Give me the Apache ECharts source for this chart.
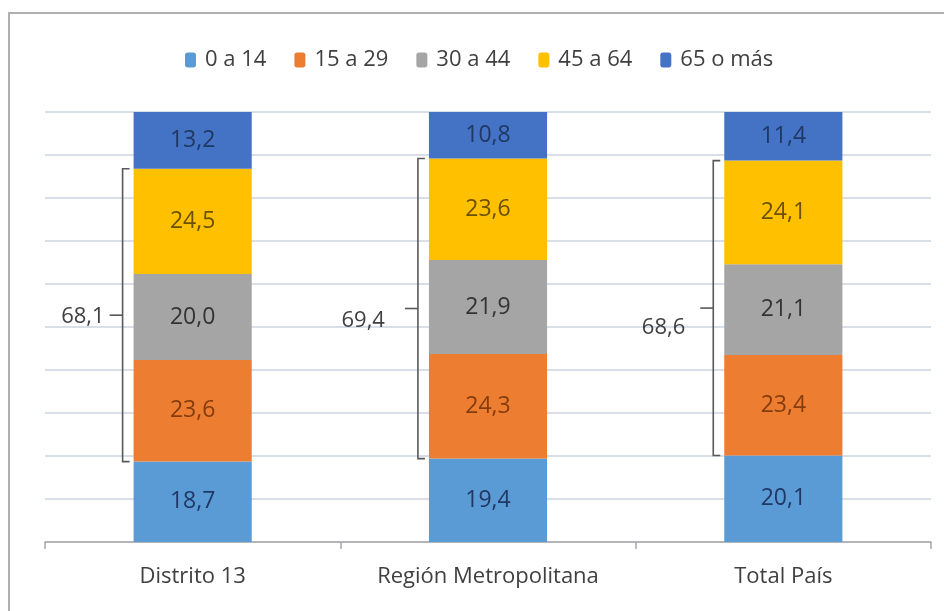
<!DOCTYPE html>
<html><head><meta charset="utf-8">
<script src="https://cdn.jsdelivr.net/npm/echarts@6/dist/echarts.min.js"></script>
<style>html,body{margin:0;padding:0;background:#fff}#c{width:944px;height:611px}</style>
</head><body><div id="c"></div>
<script>
const categories = ['Distrito 13', 'Región Metropolitana', 'Total País'];
const seriesNames = ['0 a 14', '15 a 29', '30 a 44', '45 a 64', '65 o más'];
const v0a14 = [18.7, 19.4, 20.1];
const v15a29 = [23.6, 24.3, 23.4];
const v30a44 = [20.0, 21.9, 21.1];
const v45a64 = [24.5, 23.6, 24.1];
const v65 = [13.2, 10.8, 11.4];
const activeTotals = [68.1, 69.4, 68.6];
const activeLabels = ['68,1', '69,4', '68,6'];
const yTicks = [0, 10, 20, 30, 40, 50, 60, 70, 80, 90, 100];

const colors = ['#5B9BD5', '#ED7D31', '#A5A5A5', '#FFC000', '#4472C4'];
const labelColors = ['#1F3864', '#843C0C', '#333333', '#6B5000', '#1F3864'];
const values = [v0a14, v15a29, v30a44, v45a64, v65];
const FONT = '"Open Sans", "Noto Sans", sans-serif';

// layout tweaks for the bracket labels (pixels), per category
const labelGapPx = [5, 20, 15];
const labelDyPx = [2, 12, 20];

const bracketData = categories.map((c, i) => [i, v0a14[i], v0a14[i] + v15a29[i] + v30a44[i] + v45a64[i]]);

const chart = echarts.init(document.getElementById('c'));
const barSeries = seriesNames.map((n, k) => ({
  name: n, type: 'bar', stack: 'a', barWidth: '40%',
  itemStyle: { color: colors[k] },
  label: { show: true, position: 'inside', color: labelColors[k], fontSize: 23, fontFamily: FONT,
    formatter: p => p.value.toFixed(1).replace('.', ',') },
  data: values[k],
  z: 3
}));

chart.setOption({
  animation: false,
  graphic: [{ type: 'rect', shape: { x: 9, y: 13, width: 960, height: 620 }, style: { fill: 'none', stroke: '#B0B0B0', lineWidth: 2 }, z: -1 }],
  legend: {
    top: 44, left: 180, itemWidth: 11, itemHeight: 15, itemGap: 28,
    textStyle: { fontSize: 22, color: '#404040', fontFamily: FONT, padding: [0, 0, 0, 4] },
    data: seriesNames
  },
  grid: { left: 45, right: 13, top: 112, bottom: 69 },
  xAxis: {
    type: 'category', data: categories,
    axisLine: { lineStyle: { color: '#A6A6A6', width: 1.5 } },
    axisTick: { show: true, length: 7, lineStyle: { color: '#A6A6A6', width: 1.5 } },
    axisLabel: { fontSize: 22, color: '#404040', fontFamily: FONT, margin: 24 }
  },
  yAxis: {
    type: 'value', min: 0, max: 100, interval: 10,
    axisLabel: { show: false }, axisLine: { show: false }, axisTick: { show: false },
    splitLine: { lineStyle: { color: '#CDD5E0', width: 1.5 } }
  },
  series: barSeries.concat([{
    type: 'custom', name: 'bracket', z: 5, silent: true,
    data: bracketData,
    encode: { x: 0, y: [1, 2] },
    renderItem: (params, api) => {
      const i = params.dataIndex;
      const c = api.value(0);
      const lo = api.coord([c, api.value(1)]);
      const hi = api.coord([c, api.value(2)]);
      const bw = api.size([1, 0])[0] * 0.4;
      const x = lo[0] - bw / 2 - 11;
      const ym = (lo[1] + hi[1]) / 2;
      const st = { stroke: '#595959', lineWidth: 1.6, fill: 'none' };
      return { type: 'group', children: [
        { type: 'polyline', shape: { points: [[x + 7, hi[1]], [x, hi[1]], [x, lo[1]], [x + 7, lo[1]]] }, style: st },
        { type: 'line', shape: { x1: x - 13, y1: ym, x2: x, y2: ym }, style: st },
        { type: 'text', x: x - 13 - labelGapPx[i], y: ym + labelDyPx[i], style: { text: activeLabels[i], fill: '#404040', font: '22px ' + FONT, align: 'right', verticalAlign: 'middle' } }
      ] };
    }
  }])
});
</script></body></html>
